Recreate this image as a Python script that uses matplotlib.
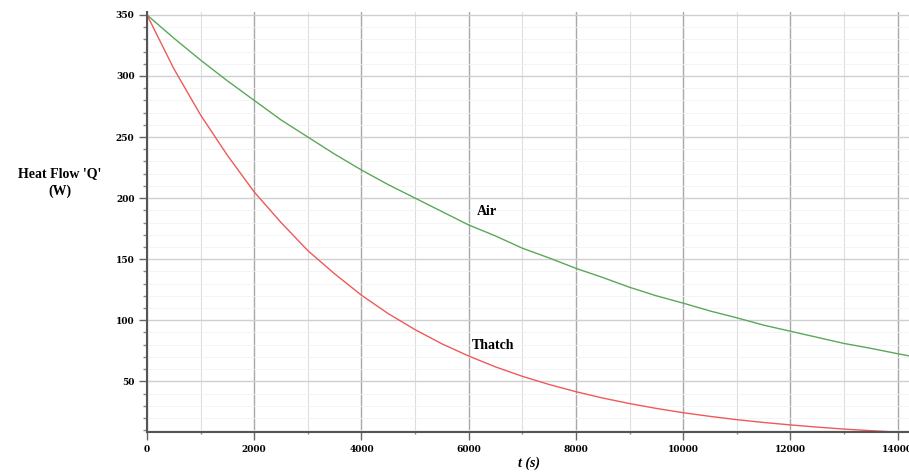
import numpy as np
import matplotlib
matplotlib.use("Agg")
import matplotlib.pyplot as plt
from matplotlib.ticker import MultipleLocator

# values, every 500 s
t = [0, 500, 1000, 1500, 2000, 2500, 3000, 3500, 4000, 4500,
     5000, 5500, 6000, 6500, 7000, 7500, 8000, 8500, 9000, 9500,
     10000, 10500, 11000, 11500, 12000, 12500, 13000, 13500, 14000, 14240]
air = [350, 331, 313, 296, 280, 264, 250, 236, 223, 211,
       200, 189, 178, 169, 159, 151, 142.5, 135, 127, 120,
       114, 107.6, 102, 96, 91, 86, 81, 77, 72.6, 70.6]
thatch = [350, 306, 268, 235, 205, 180, 157, 138, 120.5, 105.4,
          92.3, 80.7, 70.7, 61.8, 54.1, 47.4, 41.5, 36.3, 31.8, 27.8,
          24.3, 21.3, 18.6, 16.3, 14.3, 12.5, 10.9, 9.6, 8.4, 8.0]

fig = plt.figure(figsize=(9.09, 4.74), dpi=100)
ax = fig.add_axes([0.1617, 0.0886, 0.84, 0.8864])

ax.plot(t, air, color="#5aa85a", lw=1.0)
ax.plot(t, thatch, color="#ee5a5a", lw=1.0)

ax.set_xlim(0, 14240)
ax.set_ylim(8.5, 352.5)

ax.xaxis.set_major_locator(MultipleLocator(2000))
ax.xaxis.set_minor_locator(MultipleLocator(1000))
ax.yaxis.set_major_locator(MultipleLocator(50))
ax.yaxis.set_minor_locator(MultipleLocator(10))
ax.set_yticks([50, 100, 150, 200, 250, 300, 350])

ax.grid(which="major", axis="x", color="#a8a8a8", lw=1.0)
ax.grid(which="minor", axis="x", color="#dedede", lw=0.8)
ax.grid(which="major", axis="y", color="#d0d0d0", lw=1.0)
ax.grid(which="minor", axis="y", color="#f2f2f2", lw=0.6)
ax.set_axisbelow(True)

for s in ["top", "right"]:
    ax.spines[s].set_visible(False)
for s in ["left", "bottom"]:
    ax.spines[s].set_color("#555555")
    ax.spines[s].set_linewidth(1.5)

ax.tick_params(which="major", length=6, width=1, color="#666666",
               labelsize=6.5, pad=3)
ax.tick_params(which="minor", length=3, width=1, color="#888888")
ax.tick_params(axis="x", which="minor", direction="inout")
for lab in ax.get_xticklabels() + ax.get_yticklabels():
    lab.set_family("DejaVu Serif")
    lab.set_fontweight("bold")

ax.text(6150, 189, "Air", family="Liberation Serif", fontweight="bold",
        fontsize=10, ha="left", va="center")
ax.text(6050, 79, "Thatch", family="Liberation Serif", fontweight="bold",
        fontsize=10, ha="left", va="center")

fig.text(0.066, 0.615, "Heat Flow 'Q'\n(W)", family="Liberation Serif",
         fontweight="bold", fontsize=10, ha="center", va="center",
         linespacing=1.4)
ax.set_xlabel("t (s)", family="Liberation Serif", fontweight="bold",
              style="italic", fontsize=10, labelpad=2)

fig.savefig("out.png", dpi=100)
